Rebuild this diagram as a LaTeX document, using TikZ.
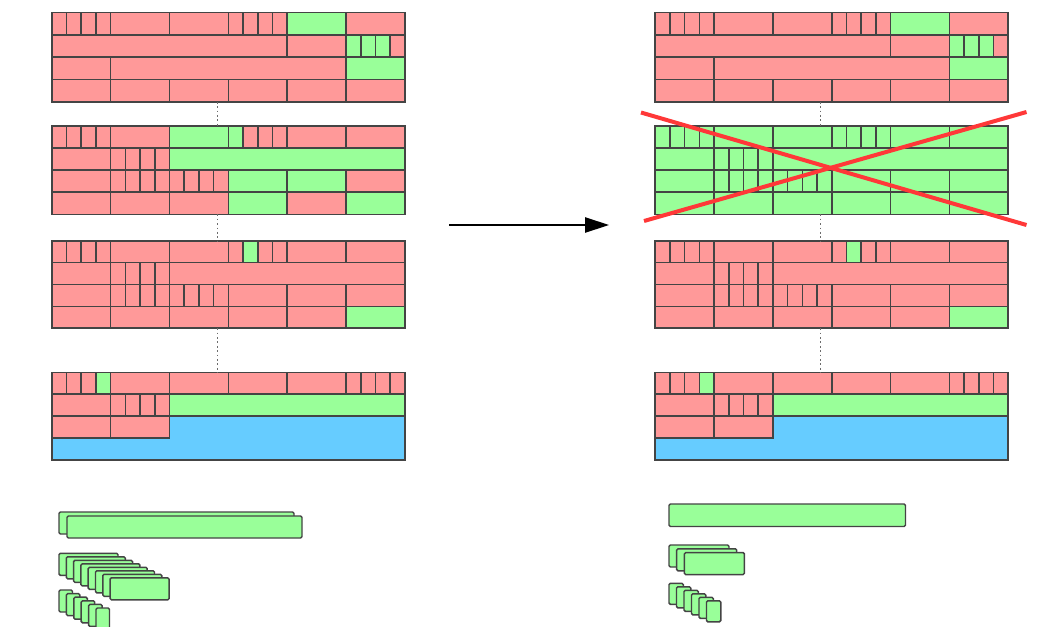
\documentclass[tikz,border=0pt]{standalone}
\usetikzlibrary{arrows.meta}
\definecolor{cr}{HTML}{FF9999}
\definecolor{cg}{HTML}{99FF99}
\definecolor{cb}{HTML}{66CCFF}
\definecolor{edge}{HTML}{444444}
\definecolor{xred}{HTML}{FF3838}
% one cell: from quarter-column #1 to #2, row #3, fill #4
\newcommand\C[4]{\filldraw[cell,fill=#4] (#1,#3) rectangle (#2,#3+1);}
% four small cells starting at quarter-column #1, row #2
\newcommand\Q[6]{\C{#1}{#1+1}{#2}{#3}\C{#1+1}{#1+2}{#2}{#4}\C{#1+2}{#1+3}{#2}{#5}\C{#1+3}{#1+4}{#2}{#6}}
\newcommand\blockA{%
 \Q{0}{0}{cr}{cr}{cr}{cr}\C{4}{8}{0}{cr}\C{8}{12}{0}{cr}\Q{12}{0}{cr}{cr}{cr}{cr}\C{16}{20}{0}{cg}\C{20}{24}{0}{cr}%
 \C{0}{16}{1}{cr}\C{16}{20}{1}{cr}\Q{20}{1}{cg}{cg}{cg}{cr}%
 \C{0}{4}{2}{cr}\C{4}{20}{2}{cr}\C{20}{24}{2}{cg}%
 \C{0}{4}{3}{cr}\C{4}{8}{3}{cr}\C{8}{12}{3}{cr}\C{12}{16}{3}{cr}\C{16}{20}{3}{cr}\C{20}{24}{3}{cr}}
\newcommand\blockB[2]{%
 \Q{0}{0}{#1}{#1}{#1}{#1}\C{4}{8}{0}{#1}\C{8}{12}{0}{#2}\Q{12}{0}{#2}{#1}{#1}{#1}\C{16}{20}{0}{#1}\C{20}{24}{0}{#1}%
 \C{0}{4}{1}{#1}\Q{4}{1}{#1}{#1}{#1}{#1}\C{8}{24}{1}{#2}%
 \C{0}{4}{2}{#1}\Q{4}{2}{#1}{#1}{#1}{#1}\Q{8}{2}{#1}{#1}{#1}{#1}\C{12}{16}{2}{#2}\C{16}{20}{2}{#2}\C{20}{24}{2}{#1}%
 \C{0}{4}{3}{#1}\C{4}{8}{3}{#1}\C{8}{12}{3}{#1}\C{12}{16}{3}{#2}\C{16}{20}{3}{#1}\C{20}{24}{3}{#2}}
\newcommand\blockC{%
 \Q{0}{0}{cr}{cr}{cr}{cr}\C{4}{8}{0}{cr}\C{8}{12}{0}{cr}\Q{12}{0}{cr}{cg}{cr}{cr}\C{16}{20}{0}{cr}\C{20}{24}{0}{cr}%
 \C{0}{4}{1}{cr}\Q{4}{1}{cr}{cr}{cr}{cr}\C{8}{24}{1}{cr}%
 \C{0}{4}{2}{cr}\Q{4}{2}{cr}{cr}{cr}{cr}\Q{8}{2}{cr}{cr}{cr}{cr}\C{12}{16}{2}{cr}\C{16}{20}{2}{cr}\C{20}{24}{2}{cr}%
 \C{0}{4}{3}{cr}\C{4}{8}{3}{cr}\C{8}{12}{3}{cr}\C{12}{16}{3}{cr}\C{16}{20}{3}{cr}\C{20}{24}{3}{cg}}
\newcommand\blockD{%
 \filldraw[cell,fill=cb] (0,2) rectangle (24,4);
 \Q{0}{0}{cr}{cr}{cr}{cg}\C{4}{8}{0}{cr}\C{8}{12}{0}{cr}\C{12}{16}{0}{cr}\C{16}{20}{0}{cr}\Q{20}{0}{cr}{cr}{cr}{cr}%
 \C{0}{4}{1}{cr}\Q{4}{1}{cr}{cr}{cr}{cr}\C{8}{24}{1}{cg}%
 \C{0}{4}{2}{cr}\C{4}{8}{2}{cr}}
\begin{document}
\begin{tikzpicture}[x=0.75pt,y=-0.75pt,
  cell/.style={draw=edge,line width=1.2pt},
  dots/.style={draw=gray!85!black,line width=1pt,dash pattern=on 1.3pt off 2pt},
  arr/.style={draw=black,line width=1pt,-{Triangle[length=18pt,width=11.5pt]}},
  cross/.style={draw=xred,line width=3pt},
  gbar/.style={draw=edge,fill=cg,line width=1.1pt,rounded corners=1pt}]
\useasboundingbox (0,0) rectangle (1061,626);
\clip (0,0) rectangle (1061,626);
\fill[white] (0,0) rectangle (1061,626);
\foreach \ox/\s/\rc in {51.8/L/cr,655.2/R/cg}{
  \begin{scope}[shift={(\ox,12.4)},x={(11.034pt,0pt)},y={(0pt,-16.76pt)}]
    \blockA
    \coordinate (\s1t) at (11.25,0); \coordinate (\s1b) at (11.25,4);
  \end{scope}
  \begin{scope}[shift={(\ox,125.8)},x={(11.034pt,0pt)},y={(0pt,-16.6pt)}]
    \blockB{\rc}{cg}
    \coordinate (\s2t) at (11.25,0); \coordinate (\s2b) at (11.25,4);
  \end{scope}
  \begin{scope}[shift={(\ox,240.8)},x={(11.034pt,0pt)},y={(0pt,-16.4pt)}]
    \blockC
    \coordinate (\s3t) at (11.25,0); \coordinate (\s3b) at (11.25,4);
  \end{scope}
  \begin{scope}[shift={(\ox,372.3)},x={(11.034pt,0pt)},y={(0pt,-16.45pt)}]
    \blockD
    \coordinate (\s4t) at (11.25,0); \coordinate (\s4b) at (11.25,4);
  \end{scope}
  \draw[dots] (\s1b) -- (\s2t);
  \draw[dots] (\s2b) -- (\s3t);
  \draw[dots] (\s3b) -- (\s4t);
}
% arrow
\coordinate (as) at (449,225);
\coordinate (ae) at (609,225);
\draw[arr] (as) -- (ae);
% red cross
\coordinate (x1) at (641,112.5);
\coordinate (x2) at (1026.5,225);
\coordinate (x3) at (644,221);
\coordinate (x4) at (1026.5,112);
\draw[cross] (x1) -- (x2);
\draw[cross] (x3) -- (x4);
% left bars
\filldraw[gbar] (59,512) rectangle ++(235,22);
\filldraw[gbar] (67,516) rectangle ++(235,22);
\foreach \i in {0,...,7}
  \filldraw[gbar] ({59+7.3*\i},{553.3+3.5*\i}) rectangle ++(59,22);
\foreach \i in {0,...,5}
  \filldraw[gbar] ({59+7.4*\i},{590+3.6*\i}) rectangle ++(13.5,22);
% right bars
\filldraw[gbar] (669,504) rectangle ++(236.5,22.5);
\foreach \i in {0,...,2}
  \filldraw[gbar] ({669+7.7*\i},{545+3.8*\i}) rectangle ++(60,22);
\foreach \i in {0,...,5}
  \filldraw[gbar] ({669+7.5*\i},{583.3+3.5*\i}) rectangle ++(14.3,21);
\end{tikzpicture}
\end{document}
